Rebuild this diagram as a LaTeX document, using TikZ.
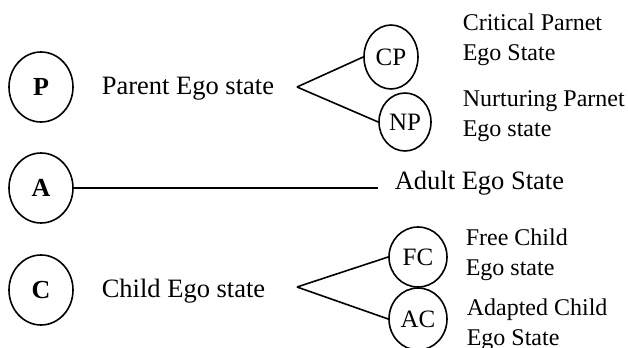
\documentclass[tikz,border=0pt]{standalone}
\usepackage{fontspec}
\setmainfont{Liberation Serif}
\usetikzlibrary{shapes.geometric}

\begin{document}
\begin{tikzpicture}[x=0.5pt, y=-0.5pt, line width=0.8pt,
  ego/.style={ellipse, draw, inner sep=0pt, minimum width=32pt, minimum height=35pt, font=\fontsize{13}{15}\selectfont\bfseries},
  sub/.style={ellipse, draw, inner sep=0pt, font=\fontsize{12.5}{15}\selectfont},
  big/.style={anchor=base west, inner sep=0pt, font=\fontsize{13.25}{16}\selectfont},
  note/.style={anchor=north west, align=left, inner sep=0pt, font=\fontsize{12}{15}\selectfont}]
\useasboundingbox (0, 0) rectangle (628, 348);
% ego states
\node[ego] at (41, 87) (P) {P};
\node[ego] at (41, 188) (A) {A};
\node[ego] at (41, 290) (C) {C};
\node[big] at (101, 94) (parent) {Parent Ego state};
\node[big] at (101, 297) (child) {Child Ego state};
\node[big, inner xsep=8pt] at (378, 190) (adult) {Adult Ego State};
% sub states
\node[sub, minimum width=27pt, minimum height=32pt] at (391, 57) (CP) {CP};
\node[sub, minimum width=26pt, minimum height=29pt] at (405, 122) (NP) {NP};
\node[sub, minimum width=29pt, minimum height=30pt] at (418, 257) (FC) {FC};
\node[sub, minimum width=29pt, minimum height=31pt] at (418, 319) (AC) {AC};
\node[note] at (462, 13) (CPtext) {Critical Parnet\\Ego State};
\node[note] at (462, 90) (NPtext) {Nurturing Parnet\\Ego state};
\node[note] at (465, 228) (FCtext) {Free Child\\Ego state};
\node[note] at (466, 298) (ACtext) {Adapted Child\\Ego State};
% forks
\coordinate (forkP) at (297, 87);
\coordinate (forkC) at (297, 287);
\path (forkP) edge (CP.west) edge (NP.west);
\path (forkC) edge (FC.west) edge (AC.west);
\path (A) edge (A -| adult.west);
\end{tikzpicture}
\end{document}
